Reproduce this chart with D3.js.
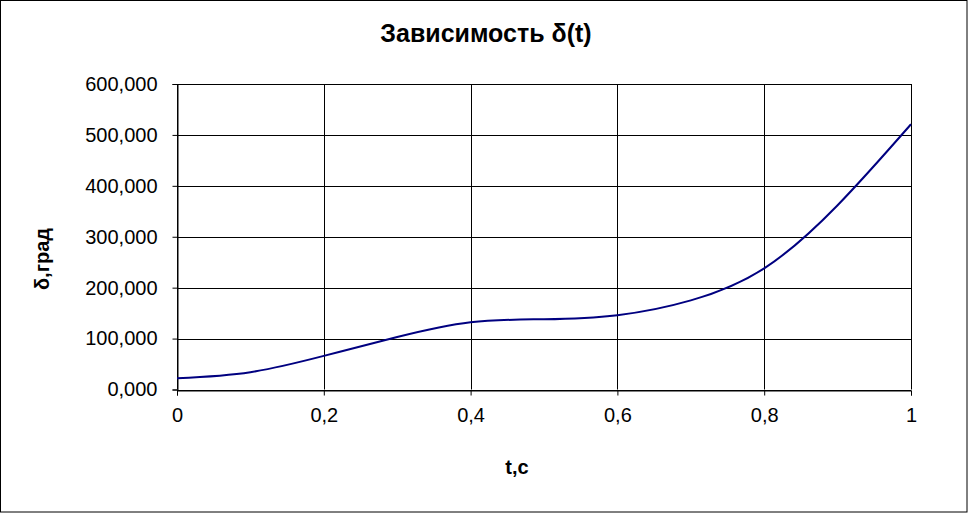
<!DOCTYPE html>
<html>
<head>
<meta charset="utf-8">
<script src="https://cdn.jsdelivr.net/npm/d3@7"></script>
<style>
  html, body { margin: 0; padding: 0; background: #fff; }
  svg { display: block; }
  text { font-family: "Liberation Sans", Arial, sans-serif; fill: #000; }
</style>
</head>
<body>
<svg id="chart" width="968" height="513"></svg>
<script>
// ---- data ----
const tValues = [0, 0.1, 0.2, 0.3, 0.4, 0.5, 0.6, 0.7, 0.8, 0.9, 1.0];
const deltaValues = [22, 34, 66, 103, 132, 138, 146, 175, 238, 362, 521];
const xTicks = [0, 0.2, 0.4, 0.6, 0.8, 1];
const yTicks = [0, 100, 200, 300, 400, 500, 600];
const titleText = "Зависимость δ(t)";
const xLabel = "t,c";
const yLabel = "δ,град";

// ---- layout ----
const W = 968, H = 513;
const plot = { left: 177, right: 911, top: 84, bottom: 389.5 };

const svg = d3.select("#chart");
svg.append("rect").attr("x", 0.5).attr("y", 0.5).attr("width", W - 1.5).attr("height", H - 1.5)
  .attr("fill", "#fff").attr("stroke", "#000").attr("stroke-width", 1);

const x = d3.scaleLinear().domain([0, 1]).range([plot.left, plot.right]);
const y = d3.scaleLinear().domain([0, 600]).range([plot.bottom, plot.top]);

const fmtY = d => d3.format(".3f")(d).replace(".", ",");
const fmtX = d => String(d).replace(".", ",");

// gridlines
const grid = svg.append("g");
grid.selectAll("line.h").data(yTicks).join("line")
  .attr("x1", plot.left).attr("x2", plot.right)
  .attr("y1", d => Math.round(y(d)) + 0.5).attr("y2", d => Math.round(y(d)) + 0.5)
  .attr("stroke", "#000").attr("stroke-width", 1);
grid.selectAll("line.v").data(xTicks).join("line")
  .attr("y1", plot.top).attr("y2", plot.bottom)
  .attr("x1", d => Math.round(x(d)) + 0.5).attr("x2", d => Math.round(x(d)) + 0.5)
  .attr("stroke", "#000").attr("stroke-width", 1);

// y axis
const yAxis = d3.axisLeft(y).tickValues(yTicks).tickFormat(fmtY).tickSize(5).tickPadding(15);
const gy = svg.append("g").attr("transform", `translate(${Math.round(plot.left) + 0.5},0)`).call(yAxis);
gy.select(".domain").attr("stroke", "#000");
gy.selectAll(".tick line").attr("stroke", "#000");
gy.selectAll(".tick text").style("font-size", "20px").attr("fill", "#000");

// x axis
const xAxis = d3.axisBottom(x).tickValues(xTicks).tickFormat(fmtX).tickSize(5).tickPadding(12);
const gx = svg.append("g").attr("transform", `translate(0,${Math.round(plot.bottom) + 0.5})`).call(xAxis);
gx.select(".domain").attr("stroke", "#000");
gx.selectAll(".tick line").attr("stroke", "#000");
gx.selectAll(".tick text").style("font-size", "20px").attr("fill", "#000");

// curve
const data = tValues.map((t, i) => ({ t, v: deltaValues[i] }));
svg.append("path").datum(data)
  .attr("fill", "none").attr("stroke", "#000080").attr("stroke-width", 2)
  .attr("d", d3.line().x(d => x(d.t)).y(d => y(d.v)).curve(d3.curveNatural));

// title & labels
svg.append("text").attr("x", 486).attr("y", 42).attr("text-anchor", "middle")
  .style("font-size", "25px").style("font-weight", "bold").text(titleText);
svg.append("text").attr("x", 517).attr("y", 474).attr("text-anchor", "middle")
  .style("font-size", "20px").style("font-weight", "bold").text(xLabel);
svg.append("text").attr("transform", "translate(49,259) rotate(-90)").attr("text-anchor", "middle")
  .style("font-size", "20px").style("font-weight", "bold").text(yLabel);
</script>
</body>
</html>
